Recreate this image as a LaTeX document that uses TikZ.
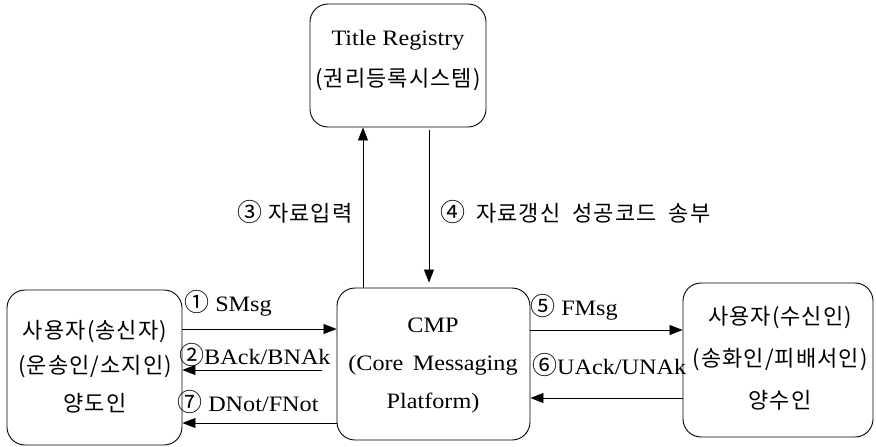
\documentclass[tikz,border=0pt]{standalone}
\usepackage{fontspec}
\setmainfont{Liberation Serif}[FakeStretch=1.1]
\newfontfamily\kr{Noto Sans CJK KR}[LetterSpace=5]
\newcommand\cnum[1]{{\kr\fontsize{25}{24}\selectfont #1}}
\usetikzlibrary{arrows.meta}
\begin{document}
\begin{tikzpicture}[x=1pt,y=-1pt,
  box/.style={draw, rounded corners=18pt, line width=0.9pt, inner sep=0pt},
  txt/.style={inner sep=0pt, font=\fontsize{22}{24}\selectfont},
  ktxt/.style={inner sep=0pt, font=\fontsize{22}{24}\selectfont\kr},
  lbl/.style={inner sep=0pt, anchor=west, font=\fontsize{22}{24}\selectfont},
  arr/.style={line width=0.8pt, -{Triangle[length=13pt,width=10pt]}}]
\useasboundingbox (0,0) rectangle (876,447);
% boxes
\node[box, minimum width=176pt, minimum height=123pt] (title) at (398,65.5) {};
\node[box, minimum width=193pt, minimum height=152pt] (cmp) at (433.5,364) {};
\node[box, minimum width=175pt, minimum height=155pt] (left) at (94.5,367.5) {};
\node[box, minimum width=190pt, minimum height=154pt] (right) at (778,360) {};
% box texts
\node[txt] (t1) at (398,40) {Title Registry};
\node[ktxt] (t2) at (398,80) {(권리등록시스템)};
\node[txt] (c1) at (433,325) {CMP};
\node[txt] (c2) at (433,365) {(Core\hspace{0.15em} Messaging};
\node[txt] (c3) at (433,403) {Platform)};
\node[ktxt] (l1) at (95,332) {사용자(송신자)};
\node[ktxt] (l2) at (95,367) {(운송인/소지인)};
\node[ktxt] (l3) at (95,403) {양도인};
\node[ktxt] (r1) at (780,318) {사용자(수신인)};
\node[ktxt] (r2) at (780,360) {(송화인/피배서인)};
\node[ktxt] (r3) at (780,400) {양수인};
% helper coordinates
\coordinate (y1) at (0,329);
\coordinate (y2) at (0,370);
\coordinate (y7) at (0,423);
\coordinate (y5) at (0,330);
\coordinate (y6) at (0,398);
\coordinate (x3) at (363,0);
\coordinate (x4) at (429,0);
% connectors
\draw[arr] (left.east |- y1) -- (cmp.west |- y1);
\draw[arr] ([xshift=-15pt]cmp.west |- y2) -- (left.east |- y2);
\draw[arr] (cmp.west |- y7) -- (left.east |- y7);
\draw[arr] (cmp.east |- y5) -- (right.west |- y5);
\draw[arr] (right.west |- y6) -- (cmp.east |- y6);
\draw[arr] (cmp.north -| x3) -- (title.south -| x3);
\draw[arr] ([yshift=-3pt]title.south -| x4) -- ([yshift=5pt]cmp.north -| x4);
% labels
\node[lbl] (n1) at (184,303) {\cnum{①} SMsg};
\node[lbl] (n2) at (179,355) {\cnum{②}BAck/BNAk};
\node[lbl] (n7) at (177,402) {\cnum{⑦} DNot/FNot};
\node[lbl] (n5) at (530,307) {\cnum{⑤} FMsg};
\node[lbl] (n6) at (532,365) {\cnum{⑥}UAck/UNAk};
\node[lbl, font=\fontsize{22}{24}\selectfont\kr] (n3) at (237,212) {\cnum{③} 자료입력};
\node[lbl, font=\fontsize{22}{24}\selectfont\kr] (n4) at (440,212) {\cnum{④}\hspace{0.5em}자료갱신\hspace{0.55em}성공코드\hspace{0.55em}송부};
\end{tikzpicture}
\end{document}
